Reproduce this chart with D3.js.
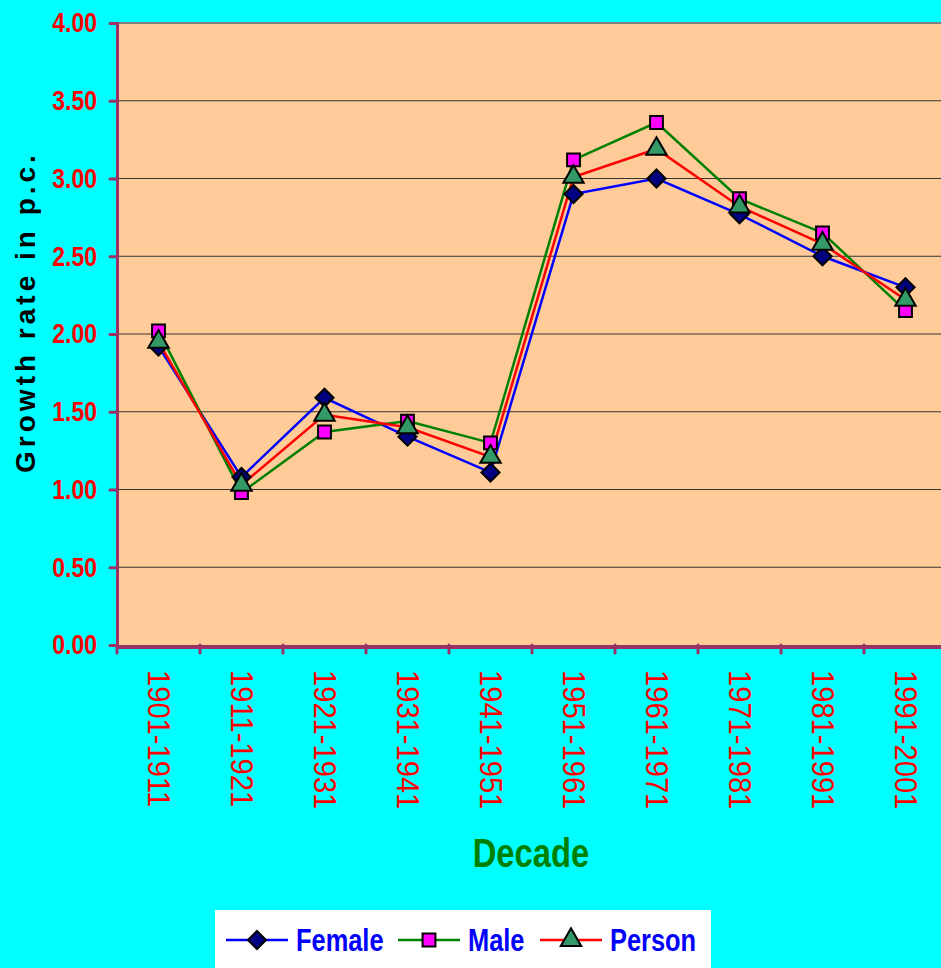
<!DOCTYPE html>
<html>
<head>
<meta charset="utf-8">
<script src="https://cdn.jsdelivr.net/npm/d3@7"></script>
<style>
  body { margin: 0; background: #00FFFF; }
  svg { display: block; }
  text { font-family: "Liberation Sans", Arial, sans-serif; }
</style>
</head>
<body>
<div id="chart"></div>
<script>
// decades on the x axis
const decades = ["1901-1911", "1911-1921", "1921-1931", "1931-1941", "1941-1951",
                 "1951-1961", "1961-1971", "1971-1981", "1981-1991", "1991-2001"];

// growth rate in p.c. for each series
const female = [1.92, 1.08, 1.59, 1.34, 1.11, 2.90, 3.00, 2.77, 2.50, 2.30];
const male   = [2.02, 0.98, 1.37, 1.44, 1.30, 3.12, 3.36, 2.87, 2.65, 2.15];
const person = [1.95, 1.03, 1.48, 1.40, 1.21, 3.01, 3.19, 2.82, 2.58, 2.22];

const yTicks = [0, 0.5, 1, 1.5, 2, 2.5, 3, 3.5, 4];

const width = 941, height = 968;
const margin = {top: 23, left: 117, bottom: 323};
const plotRight = 947; // plot runs past the right edge in the original

// the original uses a condensed face, so text is squeezed sideways
const squeeze = 0.82;

const series = [
    {name: "Female", values: female, line: "#0000FF", fill: "#000080", shape: "diamond"},
    {name: "Male",   values: male,   line: "#008000", fill: "#FF00FF", shape: "square"},
    {name: "Person", values: person, line: "#FF0000", fill: "#339966", shape: "triangle"}
];

const svg = d3.select("#chart").append("svg")
    .attr("width", width)
    .attr("height", height);

svg.append("rect")
    .attr("width", width)
    .attr("height", height)
    .attr("fill", "#00FFFF");

const x = d3.scaleBand()
    .domain(decades)
    .range([margin.left, plotRight]);

const y = d3.scaleLinear()
    .domain([0, 4])
    .range([height - margin.bottom, margin.top]);

// plot area
svg.append("rect")
    .attr("x", margin.left)
    .attr("y", y(4))
    .attr("width", plotRight - margin.left)
    .attr("height", y(0) - y(4))
    .attr("fill", "#FFCC99");

svg.append("line")
    .attr("x1", margin.left).attr("x2", plotRight)
    .attr("y1", y(4)).attr("y2", y(4))
    .attr("stroke", "#808080")
    .attr("stroke-width", 2);

// gridlines
svg.append("g").selectAll("line")
    .data(yTicks.filter(d => d > 0 && d < 4))
    .enter().append("line")
    .attr("x1", margin.left).attr("x2", plotRight)
    .attr("y1", d => y(d)).attr("y2", d => y(d))
    .attr("stroke", "#333")
    .attr("stroke-width", 1);

// y axis
const yAxis = svg.append("g")
    .attr("transform", "translate(" + margin.left + ",0)")
    .call(d3.axisLeft(y).tickValues(yTicks).tickFormat(d3.format(".2f")).tickSize(7).tickPadding(12));

yAxis.select(".domain")
    .attr("stroke", "#993366")
    .attr("stroke-width", 3);
yAxis.selectAll(".tick line")
    .attr("stroke", "#993366")
    .attr("stroke-width", 3)
    .attr("stroke-linecap", "round");
yAxis.selectAll(".tick text")
    .attr("x", 0)
    .attr("transform", "translate(-20,0) scale(" + squeeze + ",1)")
    .attr("fill", "#FF0000")
    .style("font-size", "28px")
    .style("font-weight", "bold");

// x axis: ticks sit between the decades
const xAxis = svg.append("g");
xAxis.append("line")
    .attr("x1", margin.left).attr("x2", plotRight)
    .attr("y1", y(0) + 2).attr("y2", y(0) + 2)
    .attr("stroke", "#993366")
    .attr("stroke-width", 4);
xAxis.selectAll(".xtick")
    .data(decades)
    .enter().append("line")
    .attr("class", "xtick")
    .attr("x1", d => x(d)).attr("x2", d => x(d))
    .attr("y1", y(0)).attr("y2", y(0) + 8)
    .attr("stroke", "#993366")
    .attr("stroke-width", 3)
    .attr("stroke-linecap", "round");
xAxis.selectAll(".xlabel")
    .data(decades)
    .enter().append("text")
    .attr("class", "xlabel")
    .attr("transform", d => "translate(" + (x(d) + x.bandwidth() / 2) + "," + (y(0) + 25) + ") rotate(90) scale(0.94,1)")
    .attr("dy", "0.35em")
    .attr("text-anchor", "start")
    .attr("fill", "#FF0000")
    .style("font-size", "31px")
    .text(d => d);

// axis titles
svg.append("text")
    .attr("transform", "translate(531,867) scale(" + squeeze + ",1)")
    .attr("text-anchor", "middle")
    .attr("fill", "#008000")
    .style("font-size", "40px")
    .style("font-weight", "bold")
    .text("Decade");

svg.append("text")
    .attr("transform", "translate(35,312) rotate(-90)")
    .attr("text-anchor", "middle")
    .attr("fill", "#000")
    .style("font-size", "28px")
    .style("font-weight", "bold")
    .style("letter-spacing", "4px")
    .text("Growth rate in p.c.");

// marker shapes
const symbolFor = {
    diamond: d3.symbol().type(d3.symbolDiamond2).size(210),
    square: d3.symbol().type(d3.symbolSquare).size(165),
    triangle: d3.symbol().type(d3.symbolTriangle).size(180)
};

const line = d3.line()
    .x((d, i) => x(decades[i]) + x.bandwidth() / 2)
    .y(d => y(d));

// lines first, then markers on top
svg.append("g").selectAll("path")
    .data(series)
    .enter().append("path")
    .attr("d", d => line(d.values))
    .attr("fill", "none")
    .attr("stroke", d => d.line)
    .attr("stroke-width", 2.5);

series.forEach(function(s) {
    svg.append("g").selectAll("path")
        .data(s.values)
        .enter().append("path")
        .attr("transform", (d, i) => "translate(" + (x(decades[i]) + x.bandwidth() / 2) + "," + y(d) + ")")
        .attr("d", symbolFor[s.shape])
        .attr("fill", s.fill)
        .attr("stroke", "#000")
        .attr("stroke-width", 2);
});

// legend
const legend = svg.append("g");
legend.append("rect")
    .attr("x", 215).attr("y", 910)
    .attr("width", 496).attr("height", 70)
    .attr("fill", "#FFFFFF");

const legendX = [226, 398, 540];
const item = legend.selectAll(".item")
    .data(series)
    .enter().append("g")
    .attr("class", "item")
    .attr("transform", (d, i) => "translate(" + legendX[i] + ",940)");
item.append("line")
    .attr("x1", 0).attr("x2", 62)
    .attr("stroke", d => d.line)
    .attr("stroke-width", 2.5);
item.append("path")
    .attr("transform", "translate(31,0)")
    .attr("d", d => symbolFor[d.shape]())
    .attr("fill", d => d.fill)
    .attr("stroke", "#000")
    .attr("stroke-width", 2);
item.append("text")
    .attr("transform", "translate(70,0) scale(" + squeeze + ",1)")
    .attr("dy", "0.35em")
    .attr("fill", "#0000FF")
    .style("font-size", "31px")
    .style("font-weight", "bold")
    .text(d => d.name);
</script>
</body>
</html>
